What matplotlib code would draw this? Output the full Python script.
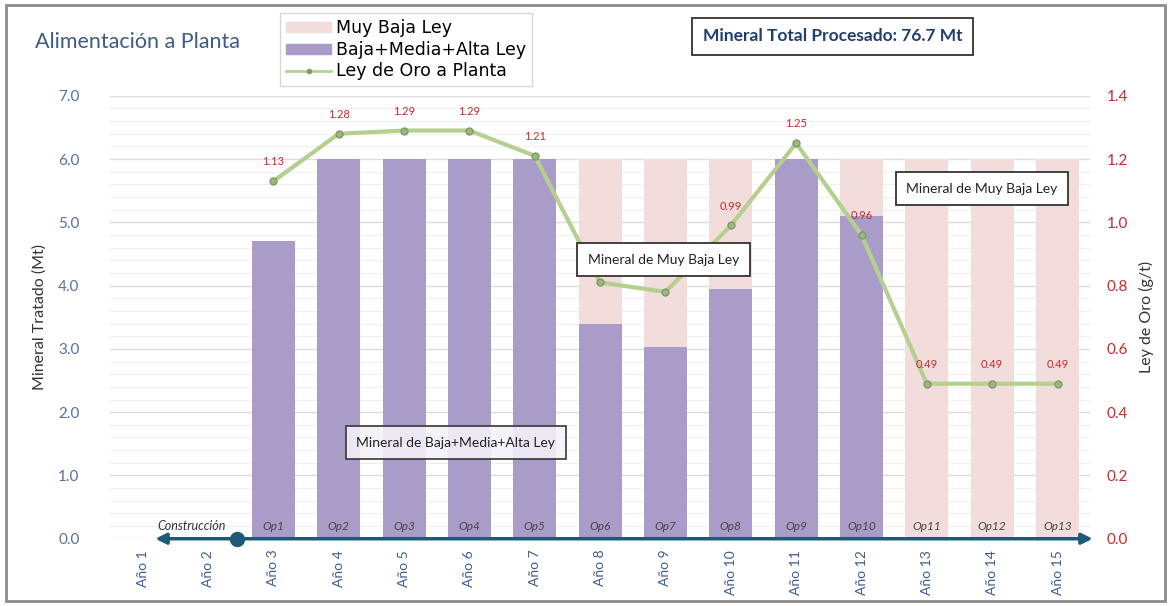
import numpy as np
import matplotlib.pyplot as plt
from matplotlib.patches import Rectangle, Patch
from matplotlib.lines import Line2D
from matplotlib.ticker import MultipleLocator

plt.rcParams['font.family'] = ['Lato', 'DejaVu Sans']

# --- data ---
years = [f"Año {i}" for i in range(1, 16)]
ops = ["", "", "Op1", "Op2", "Op3", "Op4", "Op5", "Op6", "Op7", "Op8",
       "Op9", "Op10", "Op11", "Op12", "Op13"]
baja_media_alta = [0, 0, 4.7, 6.0, 6.0, 6.0, 6.0, 3.4, 3.03, 3.95, 6.0, 5.1, 0, 0, 0]
muy_baja = [0, 0, 0, 0, 0, 0, 0, 2.6, 2.97, 2.05, 0, 0.9, 6.0, 6.0, 6.0]
ley_oro = [np.nan, np.nan, 1.13, 1.28, 1.29, 1.29, 1.21, 0.81, 0.78, 0.99,
           1.25, 0.96, 0.49, 0.49, 0.49]

total = sum(baja_media_alta) + sum(muy_baja)

PURPLE = "#aa9cc8"
PINK = "#f3dcdc"
GREEN = "#b5cf8f"
RED = "#c8282e"
BLUE_TXT = "#5a6f9a"
ARROW = "#1d5a78"

fig = plt.figure(figsize=(11.71, 6.06), dpi=100)
ax = fig.add_axes([0.094, 0.111, 0.837, 0.731])
ax2 = ax.twinx()

x = np.arange(len(years))
w = 0.66
ax.bar(x, baja_media_alta, w, color=PURPLE, zorder=2)
ax.bar(x, muy_baja, w, bottom=baja_media_alta, color=PINK, zorder=2)

ax.set_xlim(-0.5, 14.5)
ax.set_ylim(0, 7)
ax.yaxis.set_major_locator(MultipleLocator(1))
ax.yaxis.set_minor_locator(MultipleLocator(0.2))
ax.grid(which='major', axis='y', color='#dcdcdc', lw=1.0, zorder=0)
ax.grid(which='minor', axis='y', color='#f0f0f0', lw=0.8, zorder=0)
ax.set_axisbelow(True)
ax.yaxis.set_major_formatter(plt.FormatStrFormatter('%.1f'))
ax.tick_params(axis='y', which='both', length=0, labelcolor=BLUE_TXT,
               labelsize=11, pad=22)
ax.set_xticks(x)
ax.set_xticklabels(years, rotation=90, color="#3d5d8e", fontsize=10)
ax.tick_params(axis='x', length=0, pad=8)
ax.set_ylabel("Mineral Tratado (Mt)", fontsize=11.5, color="#333333", labelpad=8)
for s in ax.spines.values():
    s.set_visible(False)
for s in ax2.spines.values():
    s.set_visible(False)

# gold grade line
ax2.plot(x, ley_oro, color=GREEN, lw=3, marker='o', ms=5,
         mfc="#9cb77a", mec="#7f9a66", zorder=3)
ax2.set_ylim(0, 1.4)
ax2.yaxis.set_major_locator(MultipleLocator(0.2))
ax2.yaxis.set_major_formatter(plt.FormatStrFormatter('%.1f'))
ax2.tick_params(axis='y', length=0, labelcolor=RED, labelsize=11, pad=12)
ax2.set_ylabel("Ley de Oro (g/t)", fontsize=11.5, color="#333333", labelpad=8)
for xi, v in zip(x, ley_oro):
    if not np.isnan(v):
        ax2.annotate(f"{v:.2f}", (xi, v), xytext=(0, 10), textcoords='offset points',
                     ha='center', va='bottom', color=RED, fontsize=8)

# timeline arrow along the x axis
dot_x = 1.45
ax.annotate("", xy=(0.15, 0), xytext=(dot_x, 0), annotation_clip=False,
            arrowprops=dict(arrowstyle='-|>', color=ARROW, lw=2.5, mutation_scale=16),
            zorder=5)
ax.annotate("", xy=(14.58, 0), xytext=(dot_x, 0), annotation_clip=False,
            arrowprops=dict(arrowstyle='-|>', color=ARROW, lw=2.5, mutation_scale=16),
            zorder=5)
ax.plot([dot_x], [0], 'o', color=ARROW, ms=10, clip_on=False, zorder=6)
ax.text(0.75, 0.1, "Construcción", style='italic', fontsize=9, color="#333333",
        ha='center', va='bottom', zorder=6)
for xi, lab in zip(x, ops):
    if lab:
        ax.text(xi, 0.1, lab, style='italic', fontsize=8.5, color="#444444",
                ha='center', va='bottom', zorder=6)

# callout boxes
box = dict(boxstyle='square,pad=0.75', fc='white', ec='#333333', lw=1.3)
ax2.text(7.97, 4.41 / 5, "Mineral de Muy Baja Ley", ha='center', va='center',
         fontsize=10, color="#222222", bbox=box, zorder=10)
ax2.text(12.84, 5.53 / 5, "Mineral de Muy Baja Ley", ha='center', va='center',
         fontsize=10, color="#222222", bbox=box, zorder=10)
ax2.text(4.79, 1.52 / 5, "Mineral de Baja+Media+Alta Ley", ha='center', va='center',
         fontsize=10, color="#222222", zorder=10,
         bbox=dict(boxstyle='square,pad=0.75', fc='#f4f1f8', ec='#333333', lw=1.3, alpha=0.9))

# title, total and legend
fig.text(0.03, 0.93, "Alimentación a Planta", fontsize=15.5, color="#3e5c85",
         ha='left', va='center')
fig.text(0.711, 0.94, f"Mineral Total Procesado: {total:.1f} Mt", fontsize=12.5,
         fontweight='bold', color="#1f3f6e", ha='center', va='center',
         bbox=dict(boxstyle='square,pad=0.6', fc='white', ec='#333333', lw=1.3))

handles = [Patch(color=PINK, label="Muy Baja Ley"),
           Patch(color=PURPLE, label="Baja+Media+Alta Ley"),
           Line2D([], [], color=GREEN, lw=2, marker='o', ms=3, mfc="#7f9a66",
                  mec="#7f9a66", label="Ley de Oro a Planta")]
fig.legend(handles=handles, loc='upper left', bbox_to_anchor=(0.239, 0.978),
           prop={'family': 'DejaVu Sans', 'size': 12.5}, frameon=True,
           fancybox=False, edgecolor='#cccccc',
           handlelength=2.6, handleheight=0.5, labelspacing=0.2,
           borderpad=0.35, handletextpad=0.3, borderaxespad=0)

# outer frame
fig.add_artist(Rectangle((0.005, 0.008), 0.99, 0.984, transform=fig.transFigure,
                         fill=False, ec='#8c8c8c', lw=2))

fig.savefig("out.png", dpi=100)
